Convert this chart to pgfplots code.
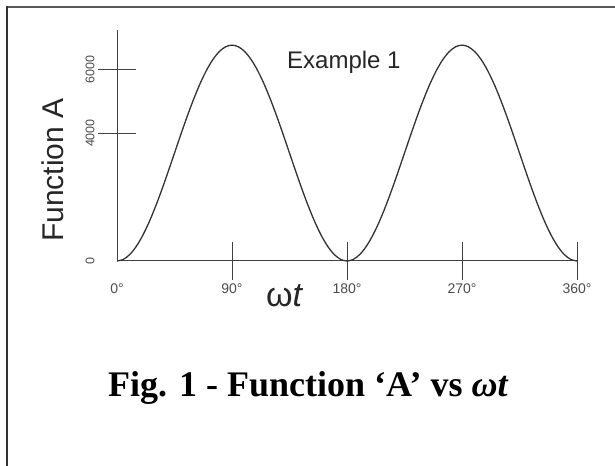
\documentclass[border=0pt]{standalone}
\usepackage{pgfplots}
\pgfplotsset{compat=1.18}
\usepackage{pgfplotstable}
\usepackage{fontspec}
\setmainfont{Liberation Sans}
\newfontfamily\timesfont{Liberation Serif}
\pgfplotstableread{
x y
0 0
5 51.3
10 203.5
15 452.2
20 789.6
25 1205.6
30 1687.5
35 2220.7
40 2789.0
45 3375
50 3961.1
55 4529.3
60 5062.5
65 5544.4
70 5960.4
75 6297.8
80 6546.5
85 6698.7
90 6750
95 6698.7
100 6546.5
105 6297.8
110 5960.4
115 5544.4
120 5062.5
125 4529.3
130 3961.1
135 3375
140 2789.0
145 2220.7
150 1687.5
155 1205.6
160 789.6
165 452.2
170 203.5
175 51.3
180 0
185 51.3
190 203.5
195 452.2
200 789.6
205 1205.6
210 1687.5
215 2220.7
220 2789.0
225 3375
230 3961.1
235 4529.3
240 5062.5
245 5544.4
250 5960.4
255 6297.8
260 6546.5
265 6698.7
270 6750
275 6698.7
280 6546.5
285 6297.8
290 5960.4
295 5544.4
300 5062.5
305 4529.3
310 3961.1
315 3375
320 2789.0
325 2220.7
330 1687.5
335 1205.6
340 789.6
345 452.2
350 203.5
355 51.3
360 0
}\datatable
\begin{document}
\begin{tikzpicture}
\begin{axis}[
  anchor=origin, at={(117bp,205bp)},
  x=1.277778bp, y=0.032bp,
  xmin=0, xmax=360, ymin=0, ymax=7220,
  axis lines=left,
  axis line style={-, draw=black!75, line width=1bp},
  clip=false,
  tick align=center, major tick length=38bp,
  tick style={draw=black!75, line width=1bp},
  xtick={90,180,270,360}, xticklabels={90°,180°,270°,360°},
  extra x ticks={0}, extra x tick labels={0°},
  extra x tick style={tick style={draw=none}},
  ytick={4000,6000}, yticklabels={4000,6000},
  extra y ticks={0}, extra y tick labels={0},
  extra y tick style={tick style={draw=none}},
  xticklabel style={font=\fontsize{14bp}{16bp}\selectfont, text=black!70},
  yticklabel style={font=\fontsize{12.5bp}{14bp}\selectfont, text=black!70, rotate=90, anchor=south},
]
\addplot[smooth, draw=black!80, line width=1.3bp] table[x=x, y=y] {\datatable};
\end{axis}
\draw[draw=black!65, line width=2.5bp] (7bp,459bp) -- (615bp,459bp);
\draw[draw=black!80, line width=1.5bp] (7bp,460bp) -- (7bp,0bp);
\node[anchor=base west, inner sep=0pt, text=black!85, font=\fontsize{24bp}{28bp}\selectfont] at (287bp,397bp) {Example 1};
\node[rotate=90, inner sep=0pt, text=black!85, font=\fontsize{30bp}{34bp}\selectfont] at (53bp,296bp) {Function A};
\node[anchor=base west, inner sep=0pt, text=black!85, font=\fontsize{34bp}{38bp}\selectfont] at (266bp,159bp) {ω\textit{t}};
\node[anchor=base west, inner sep=0pt, font=\timesfont\bfseries\fontsize{36bp}{40bp}\selectfont] at (108bp,69bp) {Fig. 1 - Function ‘A’ vs \textit{ωt}};
\pgfresetboundingbox
\useasboundingbox (0,0) rectangle (615bp,466bp);
\end{tikzpicture}
\end{document}
